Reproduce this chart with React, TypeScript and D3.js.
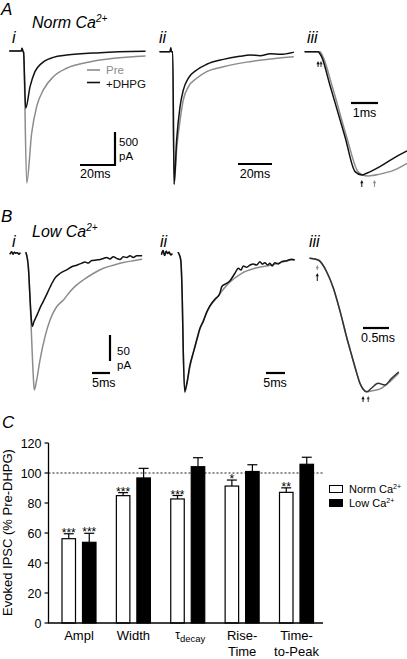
import React from 'react';
import * as d3 from 'd3';

type Pt = [number, number];

// ---------- Panel A (Norm Ca2+) ----------
// A i : time (ms) vs current (pA)
const preAi: Pt[] = [[-7, 0], [-0.4, 0], [0, 40], [0.5, 0], [0.9, -20], [2.7, -2000], [5.5, -1250], [8.4, -840], [12.2, -590], [17.9, -390], [25.5, -262], [35, -186], [44.6, -136], [63.6, -86], [70.3, -76]];
const dhpgAi: Pt[] = [[-7, 0], [-0.4, 0], [0, 40], [0.5, 0], [0.9, -20], [2.1, -868], [4.6, -540], [7.4, -313], [11.2, -187], [17.9, -96], [25.5, -61], [44.6, -25], [70.3, -5]];
// A ii : normalised to peak
const preAii: Pt[] = [[-6.9, 0], [-1, 0], [-0.5, 0.03], [-0.2, 0], [0.6, 0], [1.4, -1], [2.9, -0.74], [4.9, -0.52], [6.8, -0.365], [9.8, -0.265], [14.7, -0.2], [20.6, -0.15], [30.4, -0.113], [46, -0.075], [71.5, -0.038]];
const dhpgAii: Pt[] = [[-6.9, 0], [-1, 0], [-0.5, 0.03], [-0.2, 0], [0.6, 0], [1.4, -1], [2.9, -0.667], [4.9, -0.415], [6.8, -0.29], [9.8, -0.2], [14.7, -0.138], [20.6, -0.095], [30.4, -0.058], [40, -0.035], [46, -0.025], [52, -0.03], [58, -0.015], [64, -0.02], [71.5, -0.005]];
// A iii : rise phase, normalised
const preAiii: Pt[] = [[-0.07, 0], [0.48, 0], [0.61, -0.05], [0.93, -0.276], [1.48, -0.694], [1.85, -0.952], [2.04, -0.99], [2.27, -1.0], [2.7, -0.985], [3.2, -0.955], [3.69, -0.9]];
const dhpgAiii: Pt[] = [[-0.07, 0], [0.41, 0], [0.46, -0.01], [0.54, -0.04], [0.85, -0.27], [1.41, -0.686], [1.78, -0.965], [2.03, -0.992], [2.21, -0.978], [2.7, -0.925], [3.2, -0.858], [3.69, -0.8]];
const onsetAiii = [0.41, 0.5];   // DHPG, Pre (ms)
const peakAiii = [2.03, 2.5];     // DHPG, Pre (ms)

// ---------- Panel B (Low Ca2+) ----------
const preBi: Pt[] = [[-4.4, -2], [-4.0, 2], [-3.6, -3], [-3.2, 1], [-2.8, -1], [-2.4, 0], [-2.0, -3], [-1.7, -1], [-1, NaN], [0, 0], [0.65, -27], [1.1, -85], [1.58, -168], [2.03, -238], [2.3, -264], [2.96, -245], [3.9, -206], [5.3, -161], [6.7, -129], [8.5, -104], [10.4, -91], [12.2, -75], [14.1, -62], [15.9, -52.5], [18.7, -40], [21.5, -30], [24.3, -24], [27.0, -19], [29.8, -15.4], [32.1, -12.7]];
const dhpgBi: Pt[] = [[-4.4, -2], [-4.0, 2], [-3.6, -3], [-3.2, 1], [-2.8, -1], [-2.4, 0], [-2.0, -3], [-1.7, -1], [-1, NaN], [0, 0], [0.65, -27], [1.1, -85], [1.45, -125], [1.75, -142], [2.2, -133], [3.05, -120], [3.9, -106], [4.7, -95], [5.55, -83], [6.7, -66], [8.05, -49], [9.4, -40], [11.3, -33], [12.7, -27], [14.1, -24], [15.5, -20], [16.4, -18], [17.3, -20], [18.25, -15], [19.6, -14], [20.6, -13], [21.5, -11], [22.4, -9], [23.3, -12], [24.25, -8], [25.2, -11], [26.1, -13], [27.0, -8], [28.0, -9], [28.9, -6], [29.8, -9], [30.75, -6], [32.1, -6]];
const preBii: Pt[] = [[-4.4, -0.01], [-4.0, 0.015], [-3.6, -0.02], [-3.2, 0.01], [-2.8, -0.005], [-2.4, 0.005], [-2.0, -0.015], [-1.7, -0.01], [-1, NaN], [0, 0], [0.63, -0.05], [1.05, -0.338], [1.3, -0.695], [1.68, -1], [2.2, -0.945], [3.08, -0.814], [4.8, -0.624], [6.6, -0.481], [8.3, -0.385], [9.66, -0.338], [13.2, -0.219], [16.7, -0.147], [20.2, -0.111], [24.6, -0.088], [29.8, -0.052], [30.5, -0.05]];
const dhpgBii: Pt[] = [[-4.4, -0.01], [-4.0, 0.015], [-3.6, -0.02], [-3.2, 0.01], [-2.8, -0.005], [-2.4, 0.005], [-2.0, -0.015], [-1.7, -0.01], [-1, NaN], [0, 0], [0.63, -0.05], [1.05, -0.338], [1.3, -0.695], [1.68, -0.99], [2.2, -0.94], [3.08, -0.8], [4.0, -0.71], [4.8, -0.63], [5.7, -0.54], [6.6, -0.49], [7.4, -0.43], [8.3, -0.38], [9.66, -0.33], [10.8, -0.3], [11.5, -0.24], [12.7, -0.219], [13.6, -0.2], [14.9, -0.147], [15.8, -0.111], [16.5, -0.124], [17.1, -0.095], [18.0, -0.104], [18.9, -0.088], [19.7, -0.081], [20.6, -0.088], [21.5, -0.064], [22.1, -0.081], [22.8, -0.071], [23.5, -0.088], [24.1, -0.076], [24.7, -0.095], [25.4, -0.071], [26.3, -0.081], [27.2, -0.064], [28.5, -0.057], [29.8, -0.047], [30.5, -0.05]];
const preBiii: Pt[] = [[0, 0], [0.16, -0.013], [0.32, -0.1], [0.45, -0.223], [0.58, -0.397], [0.71, -0.595], [0.8, -0.72], [0.9, -0.856], [0.96, -0.93], [1.02, -0.972], [1.09, -0.993], [1.18, -0.987], [1.35, -0.972], [1.5, -0.93], [1.7, -0.856]];
const dhpgBiii: Pt[] = [[0, 0], [0.16, -0.013], [0.32, -0.1], [0.45, -0.223], [0.58, -0.397], [0.71, -0.595], [0.8, -0.72], [0.9, -0.856], [0.96, -0.93], [1.02, -0.972], [1.09, -0.993], [1.18, -0.967], [1.31, -0.93], [1.44, -0.943], [1.57, -0.893], [1.7, -0.848]];
const onsetBiii = [0.14, 0.14];
const peakBiii = [1.02, 1.12];

// ---------- Panel C ----------
const categories = ['Ampl', 'Width', 'tau', 'Rise', 'TTP'];
const normCa = [56.2, 84.9, 82.7, 91.3, 87.1];
const normCaErr = [3.3, 2, 2.3, 4, 3];
const lowCa = [53.8, 96.7, 104.2, 101, 105.8];
const lowCaErr = [6, 6.4, 6, 4.5, 4.7];
const normStars = ['***', '***', '***', '*', '**'];
const lowStars = ['***', '', '', '', ''];
const yTicks = [0, 20, 40, 60, 80, 100, 120];

const GRAY = '#8c8c8c';
const BLACK = '#111';
const FONT = "'Liberation Sans', Arial, Helvetica, sans-serif";

function Trace({ data, x, y, color }: { data: Pt[]; x: any; y: any; color: string }) {
  const line = d3.line<Pt>()
    .defined(d => !isNaN(d[1]))
    .x(d => x(d[0]))
    .y(d => y(d[1]))
    .curve(d3.curveMonotoneX);
  return <path d={line(data) || ''} fill="none" stroke={color} strokeWidth={1.5} strokeLinejoin="round" strokeLinecap="round" />;
}

function UpArrow({ x, top, len, color }: { x: number; top: number; len: number; color: string }) {
  return (
    <g>
      <line x1={x} x2={x} y1={top + 2} y2={top + len} stroke={color} strokeWidth={1} />
      <path d={`M${x - 1.6},${top + 3.2}L${x},${top}L${x + 1.6},${top + 3.2}Z`} fill={color} />
    </g>
  );
}

export default function App() {
  // scales for traces
  const xAi = d3.scaleLinear().domain([0, 20]).range([22, 57]);
  const yAi = d3.scaleLinear().domain([0, -500]).range([51, 84]);
  const xAii = d3.scaleLinear().domain([0, 20]).range([171.7, 205.7]);
  const yAii = d3.scaleLinear().domain([0, -1]).range([51.7, 184.3]);
  const xAiii = d3.scaleLinear().domain([0, 1]).range([307, 334]);
  const yAiii = d3.scaleLinear().domain([0, -1]).range([51.7, 176]);
  const xBi = d3.scaleLinear().domain([0, 5]).range([26, 44]);
  const yBi = d3.scaleLinear().domain([0, -50]).range([252.7, 278.7]);
  const xBii = d3.scaleLinear().domain([0, 5]).range([178.3, 197.3]);
  const yBii = d3.scaleLinear().domain([0, -1]).range([252.7, 392.7]);
  const xBiii = d3.scaleLinear().domain([0, 0.5]).range([310, 336]);
  const yBiii = d3.scaleLinear().domain([0, -1]).range([258.3, 392.7]);

  // bar chart scales
  const yC = d3.scaleLinear().domain([0, 120]).range([623, 443]);
  const xC = d3.scalePoint<string>().domain(categories).range([79, 296.5]);
  const axisL = 48.5, axisR = 323;
  const barW = 13.5;

  const sb = (len: number) => Math.abs(len);

  return (
    <svg width={407} height={659} style={{ position: 'absolute', left: 0, top: 0, background: '#fff' }} fontFamily={FONT}>
      <rect x={0} y={0} width={407} height={659} fill="#fff" />
      {/* ---------- Panel A ---------- */}
      <text x={1} y={15} fontSize={17} fontStyle="italic">A</text>
      <text x={32} y={28} fontSize={16} fontStyle="italic">Norm Ca<tspan fontSize={10} dy={-6}>2+</tspan></text>
      <text x={12} y={43} fontSize={16} fontStyle="italic">i</text>
      <text x={159} y={43} fontSize={16} fontStyle="italic">ii</text>
      <text x={307} y={43} fontSize={16} fontStyle="italic">iii</text>

      <Trace data={preAi} x={xAi} y={yAi} color={GRAY} />
      <Trace data={dhpgAi} x={xAi} y={yAi} color={BLACK} />
      {/* legend */}
      <line x1={87} x2={100} y1={70} y2={70} stroke={GRAY} strokeWidth={1.6} />
      <text x={106} y={74} fontSize={11.5} fill={GRAY}>Pre</text>
      <line x1={87} x2={100} y1={82.5} y2={82.5} stroke={BLACK} strokeWidth={1.6} />
      <text x={106} y={87.5} fontSize={11.5} fill={BLACK}>+DHPG</text>
      {/* scale bars A i */}
      <line x1={115} x2={115} y1={165} y2={165 - sb(yAi(-500) - yAi(0))} stroke="#000" strokeWidth={2.2} />
      <line x1={115 - sb(xAi(20) - xAi(0))} x2={116} y1={165} y2={165} stroke="#000" strokeWidth={2.2} />
      <text x={119} y={146} fontSize={11.5}>500</text>
      <text x={119} y={159.5} fontSize={11.5}>pA</text>
      <text x={80} y={178} fontSize={12.5}>20ms</text>

      <Trace data={preAii} x={xAii} y={yAii} color={GRAY} />
      <Trace data={dhpgAii} x={xAii} y={yAii} color={BLACK} />
      <line x1={238} x2={238 + sb(xAii(20) - xAii(0))} y1={164} y2={164} stroke="#000" strokeWidth={2.2} />
      <text x={255} y={178} fontSize={12.5} textAnchor="middle">20ms</text>

      <Trace data={preAiii} x={xAiii} y={yAiii} color={GRAY} />
      <Trace data={dhpgAiii} x={xAiii} y={yAiii} color={BLACK} />
      <line x1={351} x2={351 + sb(xAiii(1) - xAiii(0))} y1={103} y2={103} stroke="#000" strokeWidth={2.2} />
      <text x={364.5} y={117} fontSize={12.5} textAnchor="middle">1ms</text>
      <UpArrow x={xAiii(onsetAiii[0])} top={61} len={6} color={BLACK} />
      <UpArrow x={xAiii(onsetAiii[1]) + 0.5} top={61} len={6} color={'#333'} />
      <UpArrow x={xAiii(peakAiii[0])} top={180} len={7} color={BLACK} />
      <UpArrow x={xAiii(peakAiii[1])} top={180} len={7} color={GRAY} />

      {/* ---------- Panel B ---------- */}
      <text x={1} y={222} fontSize={17} fontStyle="italic">B</text>
      <text x={32} y={237} fontSize={16} fontStyle="italic">Low Ca<tspan fontSize={10} dy={-6}>2+</tspan></text>
      <text x={12} y={247} fontSize={16} fontStyle="italic">i</text>
      <text x={160} y={247} fontSize={16} fontStyle="italic">ii</text>
      <text x={309} y={247} fontSize={16} fontStyle="italic">iii</text>

      <Trace data={preBi} x={xBi} y={yBi} color={GRAY} />
      <Trace data={dhpgBi} x={xBi} y={yBi} color={BLACK} />
      <line x1={110} x2={110} y1={361} y2={361 - sb(yBi(-50) - yBi(0))} stroke="#000" strokeWidth={2.2} />
      <line x1={110 - sb(xBi(5) - xBi(0))} x2={110} y1={373} y2={373} stroke="#000" strokeWidth={2.2} />
      <text x={117} y={355} fontSize={11.5}>50</text>
      <text x={117} y={368.5} fontSize={11.5}>pA</text>
      <text x={92} y={387} fontSize={12.5}>5ms</text>

      <Trace data={preBii} x={xBii} y={yBii} color={GRAY} />
      <Trace data={dhpgBii} x={xBii} y={yBii} color={BLACK} />
      <line x1={266} x2={266 + sb(xBii(5) - xBii(0))} y1={373} y2={373} stroke="#000" strokeWidth={2.2} />
      <text x={275} y={387} fontSize={12.5} textAnchor="middle">5ms</text>

      <Trace data={preBiii} x={xBiii} y={yBiii} color={GRAY} />
      <Trace data={dhpgBiii} x={xBiii} y={yBiii} color={'#333'} />
      <line x1={363} x2={363 + sb(xBiii(0.5) - xBiii(0))} y1={328} y2={328} stroke="#000" strokeWidth={2.2} />
      <text x={378} y={342} fontSize={12.5} textAnchor="middle">0.5ms</text>
      <UpArrow x={xBiii(onsetBiii[1])} top={265} len={5} color={GRAY} />
      <UpArrow x={xBiii(onsetBiii[0])} top={273} len={8} color={BLACK} />
      <UpArrow x={xBiii(peakBiii[0])} top={396} len={6} color={BLACK} />
      <UpArrow x={xBiii(peakBiii[1])} top={396} len={6} color={'#444'} />

      {/* ---------- Panel C ---------- */}
      <text x={2} y={428} fontSize={17} fontStyle="italic">C</text>
      {/* dashed 100 line */}
      <line x1={axisL} x2={axisR} y1={yC(100)} y2={yC(100)} stroke="#000" strokeWidth={0.9} strokeDasharray="2,2" />
      {categories.map((c, i) => {
        const cx = xC(c) as number;
        const xo = cx - 17, xb = cx + 3.5;
        const topO = yC(normCa[i]), capO = yC(normCa[i] + normCaErr[i]);
        const topB = yC(lowCa[i]), capB = yC(lowCa[i] + lowCaErr[i]);
        return (
          <g key={c}>
            <line x1={xo + barW / 2} x2={xo + barW / 2} y1={topO} y2={capO} stroke="#000" strokeWidth={1.2} />
            <line x1={xo + barW / 2 - 5} x2={xo + barW / 2 + 5} y1={capO} y2={capO} stroke="#000" strokeWidth={1.2} />
            <rect x={xo} y={topO} width={barW} height={yC(0) - topO} fill="#fff" stroke="#000" strokeWidth={1.2} />
            <line x1={xb + barW / 2} x2={xb + barW / 2} y1={topB} y2={capB} stroke="#000" strokeWidth={1.2} />
            <line x1={xb + barW / 2 - 5} x2={xb + barW / 2 + 5} y1={capB} y2={capB} stroke="#000" strokeWidth={1.2} />
            <rect x={xb} y={topB} width={barW} height={yC(0) - topB} fill="#000" stroke="#000" strokeWidth={1.2} />
            {normStars[i] && <text x={xo + barW / 2} y={capO + 3} fontSize={12} textAnchor="middle">{normStars[i]}</text>}
            {lowStars[i] && <text x={xb + barW / 2} y={capB + 3} fontSize={12} textAnchor="middle">{lowStars[i]}</text>}
          </g>
        );
      })}
      {/* axes */}
      <line x1={axisL} x2={axisL} y1={yC(120)} y2={yC(0)} stroke="#000" strokeWidth={1.3} />
      <line x1={axisL - 0.6} x2={axisR} y1={yC(0)} y2={yC(0)} stroke="#000" strokeWidth={1.3} />
      {yTicks.map(t => (
        <g key={t}>
          <line x1={axisL - 4} x2={axisL} y1={yC(t)} y2={yC(t)} stroke="#000" strokeWidth={1.2} />
          <text x={axisL - 7} y={yC(t)} dy="0.36em" fontSize={12.5} textAnchor="end">{t}</text>
        </g>
      ))}
      <text transform={`translate(12,532.5) rotate(-90)`} fontSize={13} textAnchor="middle">Evoked IPSC (% Pre-DHPG)</text>
      {/* category labels */}
      <text x={xC('Ampl') as number} y={640} fontSize={13} textAnchor="middle">Ampl</text>
      <text x={xC('Width') as number} y={640} fontSize={13} textAnchor="middle">Width</text>
      <text x={(xC('tau') as number) + 2.5} y={639} fontSize={12} textAnchor="middle">τ<tspan fontSize={9.5} dy={3}>decay</tspan></text>
      <text x={xC('Rise') as number} y={640} fontSize={13} textAnchor="middle">Rise-</text>
      <text x={xC('Rise') as number} y={656} fontSize={13} textAnchor="middle">Time</text>
      <text x={xC('TTP') as number} y={640} fontSize={13} textAnchor="middle">Time-</text>
      <text x={xC('TTP') as number} y={656} fontSize={13} textAnchor="middle">to-Peak</text>
      {/* legend */}
      <rect x={329.5} y={485.5} width={13} height={7} fill="#fff" stroke="#000" strokeWidth={1} />
      <text x={349} y={492.5} fontSize={11}>Norm Ca<tspan fontSize={7} dy={-4}>2+</tspan></text>
      <rect x={329.5} y={499.5} width={13} height={7} fill="#000" stroke="#000" strokeWidth={1} />
      <text x={349} y={506.5} fontSize={11}>Low Ca<tspan fontSize={7} dy={-4}>2+</tspan></text>
    </svg>
  );
}
